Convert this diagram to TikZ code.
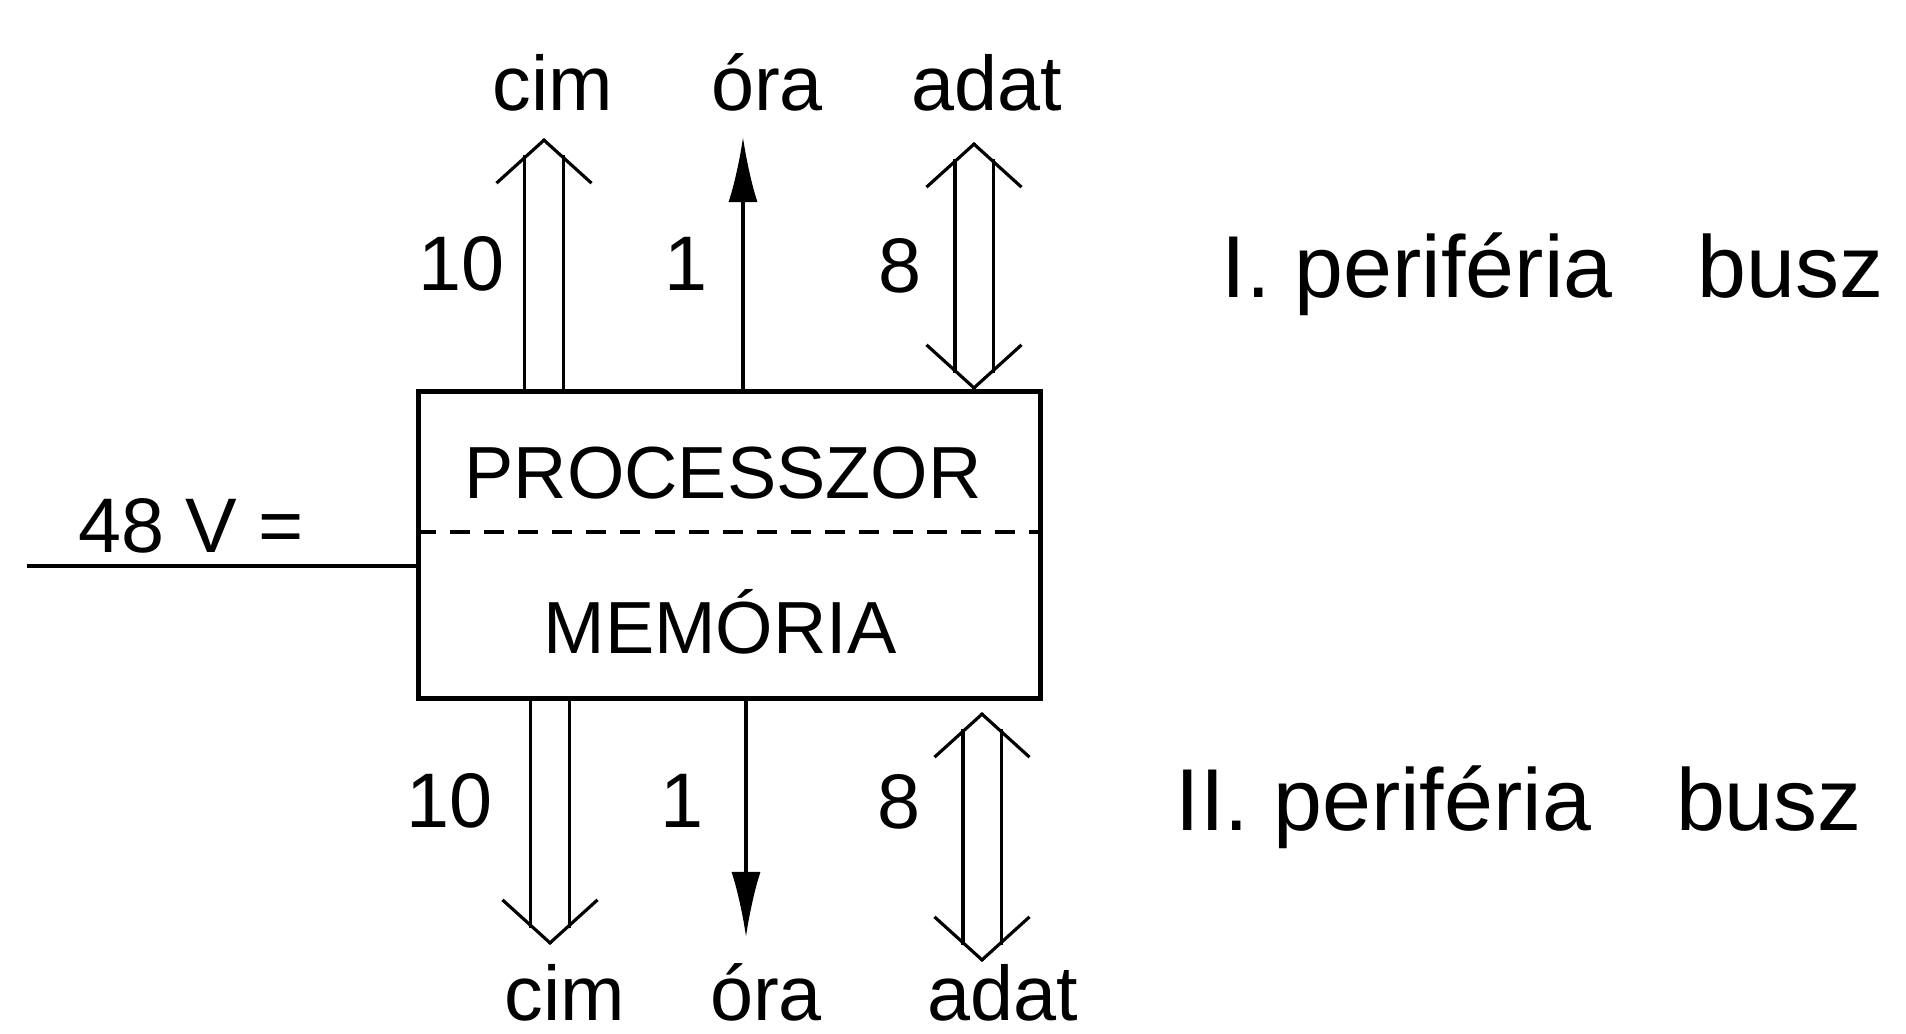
\documentclass[tikz,border=0pt]{standalone}
\usepackage{fontspec}
\setmainfont{Liberation Sans}
\usetikzlibrary{arrows.meta}

\begin{document}
\begin{tikzpicture}[
    x=0.01cm,
    y=-0.01cm,
    doboz/.style={
        draw,
        line width=1.4pt,
        minimum width=6.21cm,
        minimum height=3.06cm,
        inner sep=0pt
    },
    felirat/.style={
        anchor=base,
        inner sep=0pt,
        font=\fontsize{22}{26}\selectfont
    },
    nagyfelirat/.style={
        felirat,
        font=\fontsize{21}{25}\selectfont
    },
    buszfelirat/.style={
        anchor=base west,
        inner sep=0pt,
        font=\fontsize{25}{29}\selectfont
    },
    busz/.style={
        double,
        double distance=0.35cm,
        line width=0.9pt,
        shorten >=0.17cm
    },
    kettosbusz/.style={
        busz,
        shorten <=0.17cm
    },
    hegy/.style={
        line width=0.9pt,
        -{Straight Barb[length=0.43cm, width=0.95cm]}
    },
    jel/.style={
        line width=0.9pt,
        -{Latex[length=0.65cm, width=0.29cm]}
    }
]

\useasboundingbox (0,0) rectangle (1906,1033);

\node[doboz] (gep) at (729.5,545) {};
\draw[dashed, dash pattern=on 0.2cm off 0.14cm, line width=0.9pt]
    (gep.west |- 0,532) -- (gep.east |- 0,532);

\node[nagyfelirat] (proc) at (723,498) {PROCESSZOR};
\node[nagyfelirat] (mem) at (720,653) {MEMÓRIA};

\coordinate (tap) at (27,566);
\draw[line width=0.9pt] (tap) -- (tap -| gep.west);
\node[felirat] (fesz) at (191,552) {48 V =};

\node[felirat] (cimFel) at (553,110) {cim};
\node[felirat] (oraFel) at (767,110) {óra};
\node[felirat] (adatFel) at (987,110) {adat};
\node[felirat] (cimLe) at (565,1020) {cim};
\node[felirat] (oraLe) at (766,1020) {óra};
\node[felirat] (adatLe) at (1003,1020) {adat};

\node[felirat] (nCimFel) at (462,290) {10};
\node[felirat] (nOraFel) at (686,290) {1};
\node[felirat] (nAdatFel) at (900,292) {8};
\node[felirat] (nCimLe) at (450,827) {10};
\node[felirat] (nOraLe) at (682,827) {1};
\node[felirat] (nAdatLe) at (899,828) {8};

\coordinate (cimA) at (544,138);
\coordinate (oraA) at (743,137);
\coordinate (adatA) at (974,142);
\coordinate (adatD) at (974,390);
\coordinate (cimB) at (550,945);
\coordinate (oraB) at (746,937);
\coordinate (adatB) at (982,962);
\coordinate (adatC) at (982,712);

\draw[busz] (cimA |- gep.north) -- (cimA);
\draw[hegy] ([yshift=-0.01cm]cimA) -- (cimA);
\draw[jel] (oraA |- gep.north) -- (oraA);
\draw[kettosbusz] (adatD) -- (adatA);
\draw[hegy] ([yshift=-0.01cm]adatA) -- (adatA);
\draw[hegy] ([yshift=0.01cm]adatD) -- (adatD);

\draw[busz] (cimB |- gep.south) -- (cimB);
\draw[hegy] ([yshift=0.01cm]cimB) -- (cimB);
\draw[jel] (oraB |- gep.south) -- (oraB);
\draw[kettosbusz] (adatC) -- (adatB);
\draw[hegy] ([yshift=-0.01cm]adatC) -- (adatC);
\draw[hegy] ([yshift=0.01cm]adatB) -- (adatB);

\node[buszfelirat] (busz1) at (1221,297) {I. periféria\hspace{0.85cm}busz};
\node[buszfelirat] (busz2) at (1175,830) {II. periféria\hspace{0.85cm}busz};

\end{tikzpicture}
\end{document}
